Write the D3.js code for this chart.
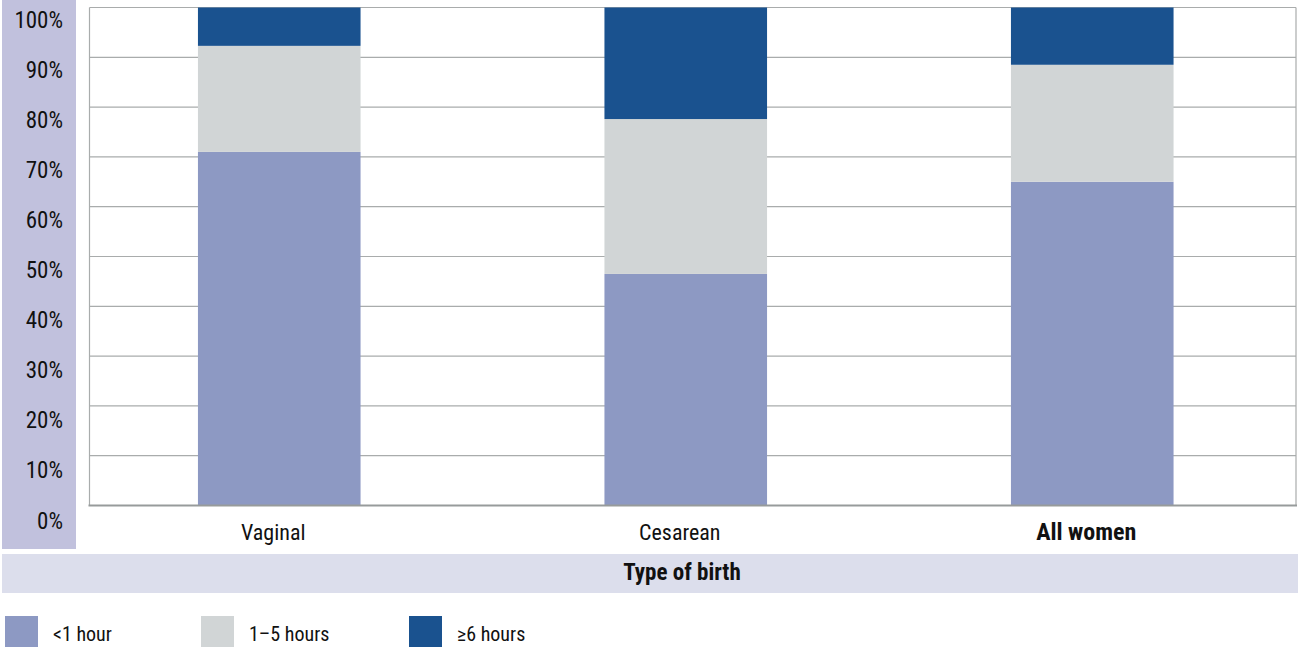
<!DOCTYPE html>
<html><head><meta charset="utf-8">
<script src="https://cdn.jsdelivr.net/npm/d3@7"></script>
<style>
html,body{margin:0;padding:0;background:#fff;}
svg text{font-family:"Roboto Condensed","Liberation Sans Narrow","Liberation Sans",Arial,sans-serif;fill:#111;}
</style></head><body>
<svg id="c" width="1298" height="647"></svg>
<script>
const categories = ["Vaginal", "Cesarean", "All women"];
const seriesNames = ["<1 hour", "1–5 hours", "≥6 hours"];
const lessThan1h = [71.0, 46.5, 65.0];
const oneTo5h = [21.3, 31.1, 23.5];
const sixPlusH = [7.7, 22.4, 11.5];
const yTicks = [0,10,20,30,40,50,60,70,80,90,100];
const colors = ["#8d99c3", "#d1d5d6", "#1a528f"];

const svg = d3.select("#c");
const L = 89.5, R = 1296, T = 7.5, B = 505.5;

const x = d3.scaleBand().domain(categories).range([76, 1295.5]).paddingInner(0.6).paddingOuter(0.3);
const y = d3.scaleLinear().domain([0,100]).range([B, T]);
const yLab = d3.scaleLinear().domain([0,100]).range([B+14.5, T+11.5]);

// y-axis panel
svg.append("rect").attr("x",2).attr("y",0).attr("width",74).attr("height",549).attr("fill","#c1c1dd");
// x title band
svg.append("rect").attr("x",2).attr("y",554).attr("width",1296).attr("height",39).attr("fill","#dcdeec");

// gridlines
svg.append("g").selectAll("line").data(yTicks.filter(d=>d>0)).join("line")
  .attr("x1",L).attr("x2",R).attr("y1",d=>y(d)).attr("y2",d=>y(d))
  .attr("stroke","#a9acac").attr("stroke-width",1.2);
svg.append("line").attr("x1",L).attr("x2",L).attr("y1",T).attr("y2",B).attr("stroke","#a9acac").attr("stroke-width",1.2);
svg.append("line").attr("x1",R).attr("x2",R).attr("y1",T).attr("y2",B).attr("stroke","#a9acac").attr("stroke-width",1.2);

// stacked bars
const rows = categories.map((c,i)=>({cat:c, a:lessThan1h[i], b:oneTo5h[i], c6:sixPlusH[i]}));
const stack = d3.stack().keys(["a","b","c6"])(rows);
svg.append("g").selectAll("g").data(stack).join("g").attr("fill",(d,i)=>colors[i])
  .selectAll("rect").data(d=>d).join("rect")
  .attr("x",d=>x(d.data.cat)).attr("width",x.bandwidth())
  .attr("y",d=>y(Math.min(d[1],100))).attr("height",d=>y(d[0])-y(Math.min(d[1],100)));

// bottom axis line
svg.append("line").attr("x1",L-1).attr("x2",R+1).attr("y1",B).attr("y2",B).attr("stroke","#979b9b").attr("stroke-width",2);

// y labels
svg.append("g").selectAll("text").data(yTicks).join("text")
  .attr("x",63).attr("y",d=>yLab(d)+8.5).attr("text-anchor","end")
  .attr("font-size",23).text(d=>d+"%");

// x category labels
svg.append("g").selectAll("text").data(categories).join("text")
  .attr("x",d=>x(d)+x.bandwidth()/2-6).attr("y",540).attr("text-anchor","middle")
  .attr("font-size",(d,i)=>i===2?24:22).attr("font-weight",(d,i)=>i===2?"bold":"normal").text(d=>d);

svg.append("text").attr("x",682).attr("y",580).attr("text-anchor","middle")
  .attr("font-size",23).attr("font-weight","bold").text("Type of birth");

// legend
const legX = [5, 201, 409];
const lg = svg.append("g").selectAll("g").data(seriesNames).join("g")
  .attr("transform",(d,i)=>`translate(${legX[i]},616)`);
lg.append("rect").attr("width",33).attr("height",31).attr("fill",(d,i)=>colors[i]);
lg.append("text").attr("x",48).attr("y",25).attr("font-size",20).text(d=>d);
</script>
</body></html>
